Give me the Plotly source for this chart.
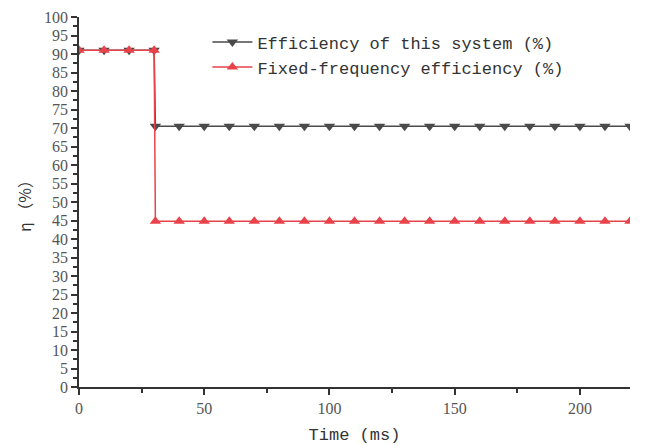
import plotly.graph_objects as go

time_ms = [0, 10, 20, 30, 30.5, 40, 50, 60, 70, 80, 90, 100, 110, 120, 130, 140, 150, 160, 170, 180, 190, 200, 210, 220]
eff_system = [91, 91, 91, 91, 70.5] + [70.5] * 19
eff_fixed = [91, 91, 91, 91, 44.8] + [44.8] * 19

x_ticks = [0, 50, 100, 150, 200]
y_ticks = list(range(0, 101, 5))

black = "#4a4a4a"
red = "#e8424a"

fig = go.Figure()
fig.add_trace(go.Scatter(
    x=time_ms, y=eff_system, mode="lines+markers",
    name="Efficiency of this system (%)",
    line=dict(color=black, width=1.5),
    marker=dict(symbol="triangle-down", size=10, color=black),
))
fig.add_trace(go.Scatter(
    x=time_ms, y=eff_fixed, mode="lines+markers",
    name="Fixed-frequency efficiency (%)",
    line=dict(color=red, width=1.5),
    marker=dict(symbol="triangle-up", size=10, color=red),
))

tickfont = dict(family="Liberation Serif, DejaVu Serif, serif", size=16, color="#555555")
fig.update_layout(
    width=651, height=445,
    margin=dict(l=79, r=21, t=17, b=58),
    paper_bgcolor="white", plot_bgcolor="white",
    showlegend=True,
    legend=dict(
        x=0.233, y=0.98, xanchor="left", yanchor="top",
        font=dict(family="Liberation Mono, monospace", size=17, color="#333333"),
        bgcolor="rgba(0,0,0,0)", tracegroupgap=0, itemwidth=40,
    ),
    xaxis=dict(
        range=[0, 220], tickvals=x_ticks, ticktext=[str(v) for v in x_ticks],
        automargin=False,
        showgrid=False, zeroline=False, showline=True, linecolor="#333333", linewidth=1.5,
        ticks="outside", ticklen=6, tickwidth=1.5, tickcolor="#333333",
        minor=dict(ticks="outside", ticklen=4, tickwidth=1.5, tickcolor="#333333", dtick=25, tick0=0),
        tickfont=tickfont,
        title=dict(text="Time (ms)", font=dict(family="Liberation Mono, monospace", size=17, color="#333333"), standoff=14),
    ),
    yaxis=dict(
        range=[0, 100], tickvals=y_ticks, ticktext=[str(v) for v in y_ticks],
        automargin=False,
        showgrid=False, zeroline=False, showline=True, linecolor="#333333", linewidth=1.5,
        ticks="outside", ticklen=6, tickwidth=1.5, tickcolor="#333333",
        minor=dict(ticks="outside", ticklen=4, tickwidth=1.5, tickcolor="#333333", dtick=2.5, tick0=0),
        tickfont=tickfont,
        title=dict(text="η （%）", font=dict(family="Noto Sans CJK SC, Liberation Mono, monospace", size=16, color="#333333"), standoff=8),
    ),
)

fig.write_html("out.html")
